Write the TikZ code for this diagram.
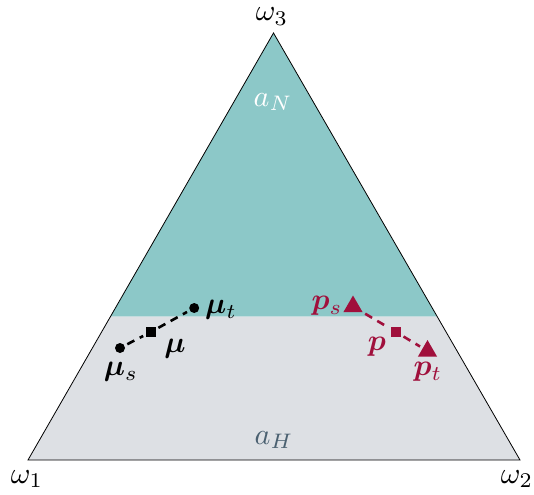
\documentclass[tikz,border=0pt]{standalone}
\usepackage{amsmath,bm}
\usetikzlibrary{shapes.geometric}
\definecolor{teal1}{HTML}{8CC8C8}
\definecolor{grey1}{HTML}{DDE0E4}
\definecolor{crim}{HTML}{A0103C}
\definecolor{slate}{HTML}{4A6070}
\tikzset{
  lbl/.style={inner sep=0pt, scale=3.0},
  dotm/.style={circle, fill=black, inner sep=0pt, minimum size=10pt},
  sqm/.style={rectangle, fill=#1, inner sep=0pt, minimum size=9.5pt},
  trim/.style={regular polygon, regular polygon sides=3, fill=crim, inner sep=0pt, minimum size=22pt},
  dline/.style={dash pattern=on 8pt off 6pt, line width=2.6pt}
}
\begin{document}
\begin{tikzpicture}[x=1pt,y=-1pt]
\useasboundingbox (0,0) rectangle (534,494);
\coordinate (w1) at (28,460);
\coordinate (w2) at (520,460);
\coordinate (w3) at (273.5,33);
\coordinate (l) at (110.4,316.7);
\coordinate (r) at (437.3,316.7);
\fill[teal1] (w3) -- (l) -- (r) -- cycle;
\fill[grey1] (l) -- (w1) -- (w2) -- (r) -- cycle;
\draw[line width=0.8pt, line join=miter] (w1) -- (w2) -- (w3) -- cycle;

\node[lbl] (t3) at (272,16.5) {$\omega_3$};
\node[lbl] (t1) at (27,479) {$\omega_1$};
\node[lbl] (t2) at (517,479) {$\omega_2$};
\node[lbl, text=white] (aN) at (273,102) {$a_N$};
\node[lbl, text=slate] (aH) at (274,440) {$a_H$};

% mu path
\node[dotm] (ms) at (120,348) {};
\node[sqm=black] (m) at (150.8,332) {};
\node[dotm] (mt) at (194.2,308) {};
\draw[dline, shorten <=3pt, shorten >=3pt] (ms) -- (m);
\draw[dline, shorten <=3pt, shorten >=3pt] (m) -- (mt);
\node[lbl] (lms) at (121,372) {$\bm{\mu}_s$};
\node[lbl] (lm) at (175,349) {$\bm{\mu}$};
\node[lbl] (lmt) at (221,310) {$\bm{\mu}_t$};

% p path
\node[trim] (ps) at (353,306.5) {};
\node[sqm=crim] (p) at (396,332) {};
\node[trim] (pt) at (427.5,351) {};
\draw[crim, dline, shorten <=3pt, shorten >=3pt] (ps) -- (p);
\draw[crim, dline, shorten <=3pt, shorten >=3pt] (p) -- (pt);
\node[lbl, text=crim] (lps) at (327,306) {$\bm{p}_s$};
\node[lbl, text=crim] (lp) at (377,347) {$\bm{p}$};
\node[lbl, text=crim] (lpt) at (428,372) {$\bm{p}_t$};
\end{tikzpicture}
\end{document}
